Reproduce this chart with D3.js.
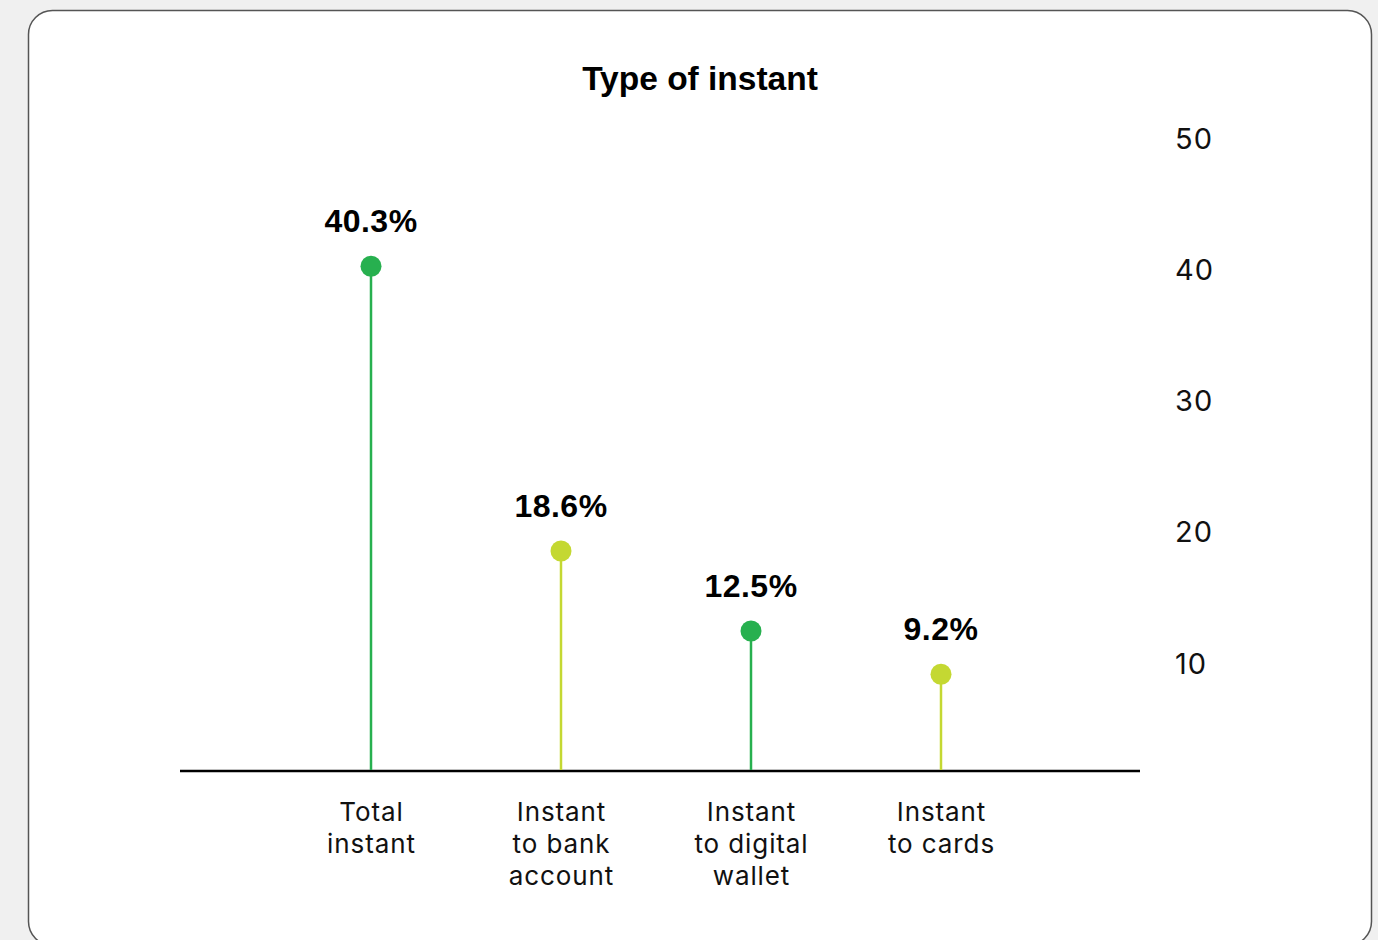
<!DOCTYPE html>
<html>
<head>
<meta charset="utf-8">
<script src="https://cdn.jsdelivr.net/npm/d3@7"></script>
<style>
  html, body { margin: 0; padding: 0; background: #f0f0f0; }
  svg { display: block; }
</style>
</head>
<body>
<svg id="chart" width="1378" height="940"></svg>
<script>
const categories = [["Total", "instant"], ["Instant", "to bank", "account"], ["Instant", "to digital", "wallet"], ["Instant", "to cards"]];
const values = [40.3, 18.6, 12.5, 9.2];
const valueLabels = ["40.3%", "18.6%", "12.5%", "9.2%"];
const colors = ["#27b04f", "#c4d832", "#27b04f", "#c4d832"];
const yTicks = [10, 20, 30, 40, 50];
const title = "Type of instant";

const svg = d3.select("#chart");
const W = 1378, H = 940;

svg.append("rect").attr("width", W).attr("height", H).attr("fill", "#f0f0f0");
svg.append("rect")
  .attr("x", 28.5).attr("y", 10.5).attr("width", 1343).attr("height", 935)
  .attr("rx", 24).attr("fill", "#ffffff").attr("stroke", "#555").attr("stroke-width", 1.5);

svg.append("text")
  .attr("x", 700).attr("y", 90)
  .attr("text-anchor", "middle")
  .attr("font-family", "Liberation Sans, Arial, sans-serif")
  .attr("font-weight", "bold").attr("font-size", 33.5)
  .attr("fill", "#000").text(title);

const idx = categories.map((c, i) => i);
const x = d3.scalePoint().domain(idx).range([181, 1131]).padding(1);
const y = d3.scaleLinear().domain([0, 50]).range([795, 139]);
const baseY = 771;

// y axis on right
const yAxis = svg.append("g").attr("transform", "translate(1165,0)")
  .call(d3.axisRight(y).tickValues(yTicks).tickSize(0).tickPadding(10).tickFormat(d3.format("d")));
yAxis.select(".domain").remove();
yAxis.selectAll("text")
  .attr("font-family", "Inter, sans-serif").attr("font-size", 29)
  .attr("letter-spacing", 1).attr("fill", "#111");

// x axis baseline
const xAxis = svg.append("g").attr("transform", `translate(0,${baseY})`)
  .call(d3.axisBottom(x).tickSize(0).tickFormat(""));
xAxis.select(".domain").attr("d", "M180,0H1140").attr("stroke", "#000").attr("stroke-width", 2.5);

// category labels
categories.forEach((lines, i) => {
  const t = svg.append("text")
    .attr("text-anchor", "middle")
    .attr("font-family", "Inter, sans-serif").attr("font-size", 26)
    .attr("letter-spacing", 0.9)
    .attr("fill", "#111");
  lines.forEach((ln, j) => {
    t.append("tspan").attr("x", x(i) + 0.5).attr("y", 821 + j * 32).text(ln);
  });
});

// stems
svg.selectAll("line.stem").data(values).enter().append("line")
  .attr("class", "stem")
  .attr("x1", (d, i) => x(i)).attr("x2", (d, i) => x(i))
  .attr("y1", baseY - 1).attr("y2", d => y(d))
  .attr("stroke", (d, i) => colors[i]).attr("stroke-width", 2.5);

// dots
svg.selectAll("circle.dot").data(values).enter().append("circle")
  .attr("class", "dot")
  .attr("cx", (d, i) => x(i)).attr("cy", d => y(d)).attr("r", 10.5)
  .attr("fill", (d, i) => colors[i]);

// value labels
svg.selectAll("text.val").data(values).enter().append("text")
  .attr("class", "val")
  .attr("x", (d, i) => x(i)).attr("y", d => y(d) - 34)
  .attr("text-anchor", "middle")
  .attr("font-family", "Liberation Sans, Arial, sans-serif")
  .attr("font-weight", "bold").attr("font-size", 32)
  .attr("letter-spacing", 0.5)
  .attr("fill", "#000")
  .text((d, i) => valueLabels[i]);
</script>
</body>
</html>
